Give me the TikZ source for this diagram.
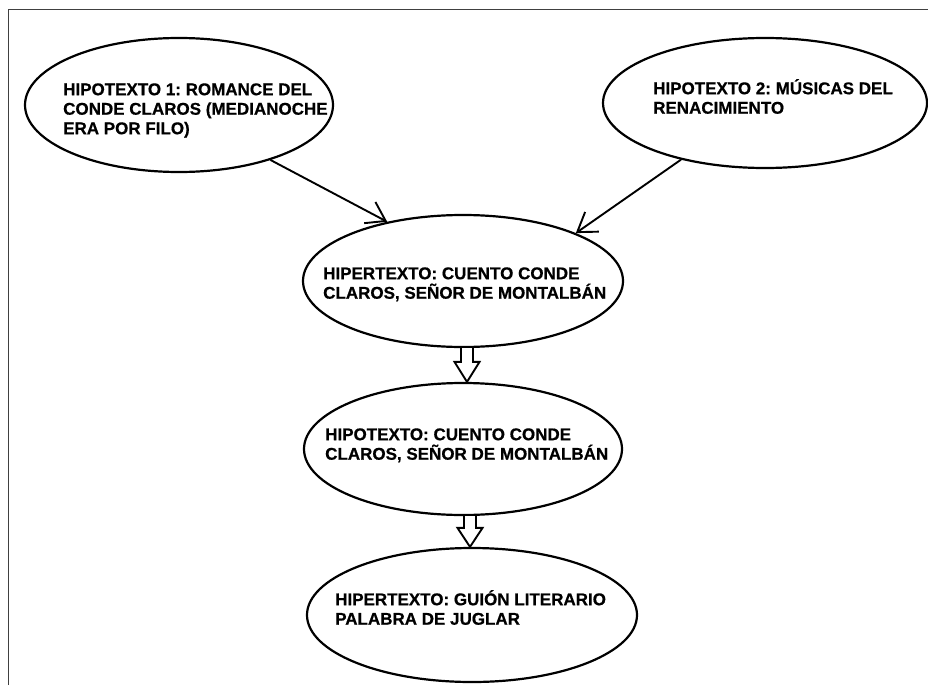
\documentclass[tikz,border=0pt]{standalone}
\usepackage{fontspec}
\setmainfont{Liberation Sans}[BoldFeatures = {FakeBold = 0.6}]
\usepackage{tikz}
\usetikzlibrary{shapes.geometric,arrows.meta,calc}
\newcommand{\capstrut}{\rule{0pt}{17pt}}
\frenchspacing

\tikzset{
  elli/.style = {draw, ellipse, line width = 2.2pt, inner sep = 0pt},
  txt/.style = {anchor = north west, align = left, inner sep = 0pt,
    font = \bfseries\fontsize{17}{19.5}\selectfont},
  link/.style = {line width = 1.9pt, -{Straight Barb[length = 18pt, width = 24pt, line width = 1.9pt]}},
  hollow/.style = {draw, line width = 1.9pt, fill = white, line join = miter}
}

\begin{document}
\begin{tikzpicture}[x = 1pt, y = -1pt]
\useasboundingbox (0,0) rectangle (928,685);
\draw[black!75, line width = 1.5pt] (8.5,685) -- (8.5,9.5) -- (928,9.5);

% the five ellipses
\node[elli, minimum width = 308pt, minimum height = 134pt] (hypo1) at (179,105) {};
\node[elli, minimum width = 324pt, minimum height = 130pt] (hypo2) at (765,103) {};
\node[elli, minimum width = 320pt, minimum height = 132pt] (hyper1) at (463,281) {};
\node[elli, minimum width = 318pt, minimum height = 132pt] (hypo3) at (463,449) {};
\node[elli, minimum width = 330pt, minimum height = 134pt] (hyper2) at (472,615) {};

% texts
\node[txt] (hypo1_text) at (63,78) {\capstrut HIPOTEXTO 1: ROMANCE DEL\\CONDE CLAROS (MEDIANOCHE\\ERA POR FILO)};
\node[txt] (hypo2_text) at (653,77) {\capstrut HIPOTEXTO 2: MÚSICAS DEL\\RENACIMIENTO};
\node[txt] (hyper1_text) at (323,262) {\capstrut HIPERTEXTO: CUENTO CONDE\\CLAROS, SEÑOR DE MONTALBÁN};
\node[txt] (hypo3_text) at (325,423) {\capstrut HIPOTEXTO: CUENTO CONDE\\CLAROS, SEÑOR DE MONTALBÁN};
\node[txt] (hyper2_text) at (335,588) {\capstrut HIPERTEXTO: GUIÓN LITERARIO\\PALABRA DE JUGLAR};

% line arrows
\draw[link] (hypo1.-31) -- (hyper1.142);
\draw[link] (hypo2.-146) -- (hyper1.23);

% hollow block arrows
\coordinate (b1top) at ($(hyper1.south)+(4,0)$);
\coordinate (b1tip) at ($(hypo3.north)+(4,0)$);
\path[hollow] ($(b1top)+(-6,0)$) -- ($(b1tip)+(-6,-20)$) -- ($(b1tip)+(-12.5,-20)$) -- (b1tip)
  -- ($(b1tip)+(12.5,-20)$) -- ($(b1tip)+(6,-20)$) -- ($(b1top)+(6,0)$);
\coordinate (b2top) at ($(hypo3.south)+(7,0)$);
\coordinate (b2tip) at ($(hyper2.north)+(-2,0)$);
\path[hollow] ($(b2top)+(-6,0)$) -- ($(b2tip)+(-6,-19)$) -- ($(b2tip)+(-12.5,-19)$) -- (b2tip)
  -- ($(b2tip)+(12.5,-19)$) -- ($(b2tip)+(6,-19)$) -- ($(b2top)+(6,0)$);
\end{tikzpicture}
\end{document}
